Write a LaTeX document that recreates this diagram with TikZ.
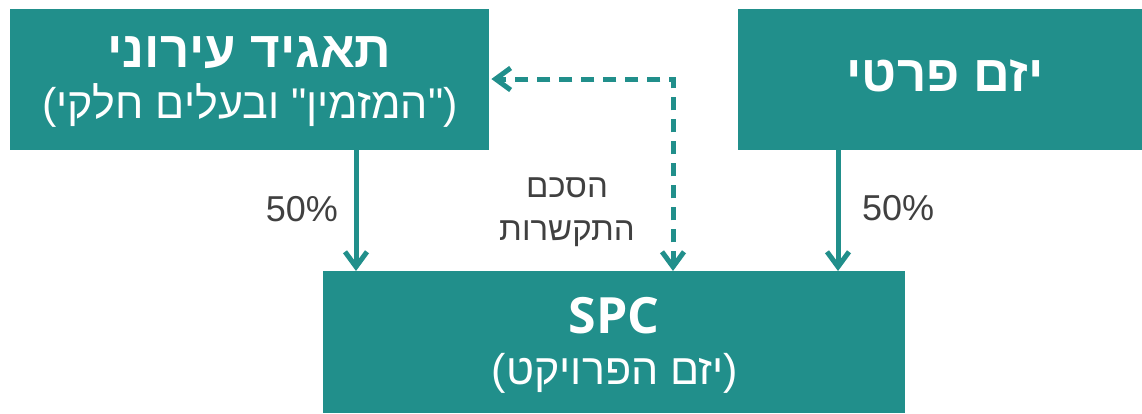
\documentclass[tikz,border=0pt]{standalone}
\usepackage{fontspec}
\setmainfont{Liberation Sans}
\newfontfamily\hebfont[Script=Hebrew]{Liberation Sans}
\newfontfamily\latinfont{Open Sans}
\newfontfamily\numfont{Liberation Sans}
\TeXXeTstate=1
\usetikzlibrary{arrows.meta}
\definecolor{boxteal}{HTML}{218F8B}
\definecolor{labelgray}{HTML}{404040}
\tikzset{
  box/.style={fill=boxteal, draw=none, inner sep=0pt, anchor=north west},
  boxtitle/.style={text=white, inner sep=0pt, anchor=base, font=\hebfont\bfseries\fontsize{51}{55}\selectfont},
  boxsub/.style={text=white, inner sep=0pt, anchor=base, font=\hebfont\fontsize{43}{48}\selectfont},
  pct/.style={text=labelgray, inner sep=0pt, font=\numfont\fontsize{36}{40}\selectfont},
  dealtext/.style={text=labelgray, inner sep=0pt, anchor=base, font=\hebfont\fontsize{33}{38}\selectfont},
  barb/.style={Straight Barb[length=15pt,width=22pt]},
  conn/.style={draw=boxteal, line width=5pt, -{Straight Barb[length=15pt,width=22pt]}},
  dconn/.style={draw=boxteal, line width=5pt, dash pattern=on 13pt off 9pt,
    {Straight Barb[length=15pt,width=22pt]}-{Straight Barb[length=15pt,width=22pt]}},
}
\begin{document}
\begin{tikzpicture}[x=1pt,y=-1pt]
\useasboundingbox (0,0) rectangle (1142,413);

% boxes
\node[box, minimum width=479pt, minimum height=141pt] (tag) at (10,9) {};
\node[box, minimum width=404pt, minimum height=141pt] (yazam) at (738,9) {};
\node[box, minimum width=582pt, minimum height=142pt] (spc) at (323,271) {};

% box texts
\node[boxtitle] (tagT) at (249.5,67) {\beginR תאגיד עירוני\endR};
\node[boxsub] (tagS) at (250,118) {\beginR ("המזמין" ובעלים חלקי)\endR};
\node[boxtitle] (yazamT) at (945,91) {\beginR יזם פרטי\endR};
\node[boxtitle, font=\latinfont\bfseries\fontsize{50}{54}\selectfont] (spcT) at (614,333) {SPC};
\node[boxsub] (spcS) at (615,384) {\beginR (יזם הפרויקט)\endR};

% connector guides
\coordinate (xleft) at (356,0);
\coordinate (xright) at (838,0);
\coordinate (bend) at (673,79);

% ownership arrows
\draw[conn] (tag.south -| xleft) -- (spc.north -| xleft);
\draw[conn] (yazam.south -| xright) -- (spc.north -| xright);

% agreement link
\draw[dconn] (spc.north -| bend) -- (bend) -- ([xshift=2pt]tag.east |- bend);

% labels
\node[pct, anchor=base east] (pctL) at (338,221) {50\%};
\node[pct, anchor=base west] (pctR) at (862,220) {50\%};
\node[dealtext] (deal1) at (567,197) {\beginR הסכם\endR};
\node[dealtext] (deal2) at (567,240) {\beginR התקשרות\endR};
\end{tikzpicture}
\end{document}
